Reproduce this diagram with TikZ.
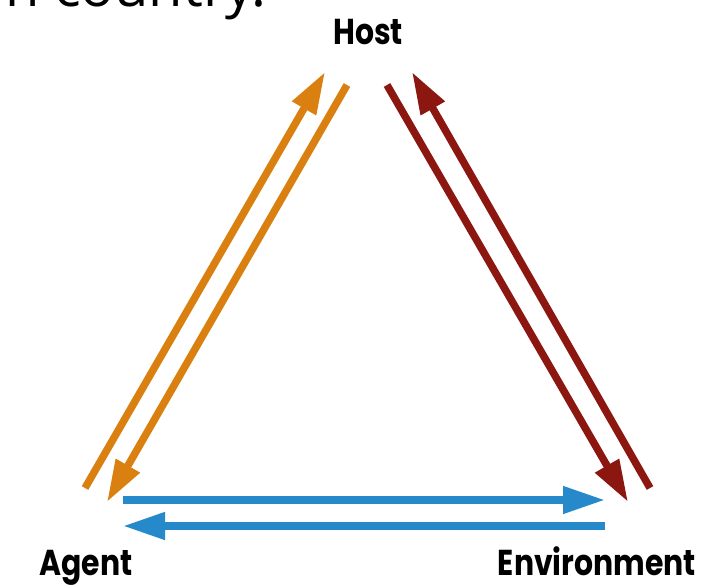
\documentclass[tikz,border=0pt]{standalone}
\usepackage{fontspec}
\setmainfont{Poppins}
\newfontfamily\pagefont{Open Sans}
\usetikzlibrary{arrows.meta}
\definecolor{hostorange}{RGB}{217,128,16}
\definecolor{envred}{RGB}{140,22,16}
\definecolor{agentblue}{RGB}{38,138,202}
\newcommand{\narrow}[1]{\scalebox{0.83}[1]{#1}}
\begin{document}
\begin{tikzpicture}[x=1pt,y=-1pt,font=\bfseries\fontsize{36}{40}\selectfont,
	arr/.style={line width=7.5pt,-{Triangle[length=42pt,width=26pt]}}]
	\clip (0,0) rectangle (701,588);
	% cut-off line of the page above the figure
	\node[anchor=base east,inner sep=0pt,font=\pagefont\fontsize{56}{60}\selectfont] (page) at (267,7) {n country.};
	\node[anchor=base,inner sep=0pt] (H) at (368,45) {\narrow{Host}};
	\node[anchor=base,inner sep=0pt] (Ag) at (86,575) {\narrow{Agent}};
	\node[anchor=base,inner sep=0pt] (En) at (597,575) {\narrow{Environment}};
	\path (85,488) coordinate (A1)
		(107,502) coordinate (A2)
		(123,500) coordinate (A3)
		(123,526) coordinate (A4)
		(325,72) coordinate (H1)
		(347,85) coordinate (H2)
		(387,85) coordinate (H3)
		(412,72) coordinate (H4)
		(628,502) coordinate (E1)
		(650,488) coordinate (E2)
		(605,500) coordinate (E3)
		(605,526) coordinate (E4);
	\foreach \s/\e/\c in {A1/H1/hostorange, H2/A2/hostorange, H3/E1/envred,
		E2/H4/envred, A3/E3/agentblue, E4/A4/agentblue}{
		\draw[arr,\c] (\s)--(\e);
	}
\end{tikzpicture}
\end{document}
